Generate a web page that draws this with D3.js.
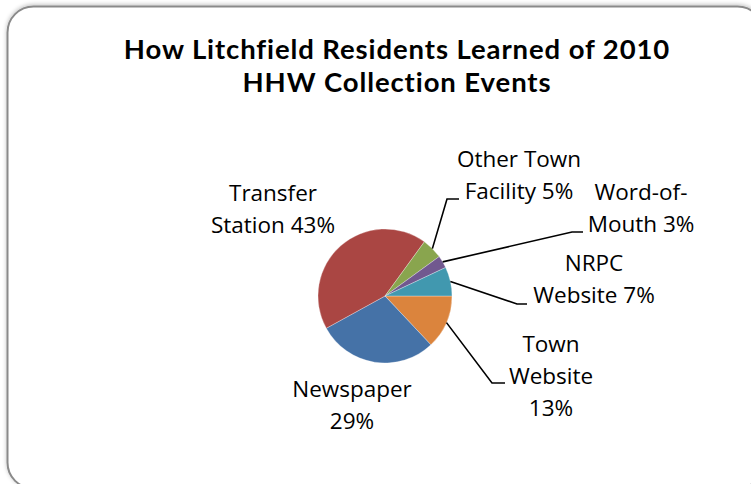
<!DOCTYPE html>
<html>
<head>
<meta charset="utf-8">
<script src="https://cdn.jsdelivr.net/npm/d3@7"></script>
<style>
  body { margin: 0; background: #fff; }
  svg { display: block; }
  .title { font-family: Lato, "Open Sans", sans-serif; font-weight: 700; font-size: 27.5px; fill: #000;
           letter-spacing: 0.9px; font-variant-ligatures: none; font-feature-settings: "liga" 0, "clig" 0; }
  .lbl { font-family: "Open Sans", "Noto Sans", sans-serif; font-size: 22.5px; fill: #000; }
</style>
</head>
<body>
<div id="chart"></div>
<script>
// slices in drawing order, clockwise starting at 3 o'clock
var categories = ['Town Website', 'Newspaper', 'Transfer Station', 'Other Town Facility', 'Word-of-Mouth', 'NRPC Website'];
var percents = [13, 29, 43, 5, 3, 7];
var labelLines = [
	['Town', 'Website', '13%'],
	['Newspaper', '29%'],
	['Transfer', 'Station 43%'],
	['Other Town', 'Facility 5%'],
	['Word-of-', 'Mouth 3%'],
	['NRPC', 'Website 7%']
];
var colors = ['#DB843D', '#4572A7', '#AA4643', '#89A54E', '#71588F', '#4198AF'];

var width = 751, height = 484;
var cx = 385, cy = 296, radius = 67;
var lineH = 32;

// where each label block sits (center x, first baseline) and where its leader bends
var labelPos = [
	{x: 551, y: 352, elbow: [492, 383], end: [505, 383]},
	{x: 352, y: 397},
	{x: 273, y: 201},
	{x: 519, y: 167, elbow: [447, 199], end: [459, 199]},
	{x: 641, y: 200, elbow: [572, 232], end: [583, 232]},
	{x: 594, y: 271, elbow: [517, 304], end: [527, 304]}
];

var svg = d3.select('#chart').append('svg')
	.attr('width', width)
	.attr('height', height);

// outer frame with soft shadow
var defs = svg.append('defs');
var flt = defs.append('filter').attr('id', 'shadow')
	.attr('x', '-5%').attr('y', '-5%').attr('width', '110%').attr('height', '110%');
flt.append('feGaussianBlur').attr('in', 'SourceAlpha').attr('stdDeviation', 2);
flt.append('feOffset').attr('dx', 0).attr('dy', -1).attr('result', 'b');
flt.append('feFlood').attr('flood-color', '#000').attr('flood-opacity', 0.25);
flt.append('feComposite').attr('in2', 'b').attr('operator', 'in');
var mrg = flt.append('feMerge');
mrg.append('feMergeNode');
mrg.append('feMergeNode').attr('in', 'SourceGraphic');

svg.append('rect')
	.attr('x', 7.5).attr('y', 6.5)
	.attr('width', 756).attr('height', 482)
	.attr('rx', 26).attr('ry', 26)
	.attr('fill', '#fff')
	.attr('stroke', '#8a8a8a')
	.attr('stroke-width', 2)
	.attr('filter', 'url(#shadow)');

// title
var title = svg.append('text').attr('class', 'title').attr('text-anchor', 'middle');
title.append('tspan').attr('x', 397).attr('y', 59).text('How Litchfield Residents Learned of 2010');
title.append('tspan').attr('x', 397).attr('y', 92).text('HHW Collection Events');

// pie
var data = categories.map(function(c, i){ return {name: c, value: percents[i], i: i}; });
var pie = d3.pie()
	.sort(null)
	.value(function(d){ return d.value; })
	.startAngle(Math.PI / 2)
	.endAngle(Math.PI / 2 + 2 * Math.PI);
var arcs = pie(data);
var arc = d3.arc().innerRadius(0).outerRadius(radius);

var g = svg.append('g').attr('transform', 'translate(' + cx + ',' + cy + ')');
g.selectAll('path.slice')
	.data(arcs)
	.enter().append('path')
	.attr('class', 'slice')
	.attr('d', arc)
	.attr('fill', function(d){ return colors[d.data.i]; })
	.attr('stroke', '#fff')
	.attr('stroke-opacity', 0.5)
	.attr('stroke-width', 0.6);

// leader lines from slice edge (mid angle) to label
var edge = d3.arc().innerRadius(radius).outerRadius(radius);
arcs.forEach(function(d){
	var p = labelPos[d.data.i];
	if(!p.elbow) return;
	var c = edge.centroid(d);
	var pts = [[cx + c[0], cy + c[1]], p.elbow, p.end];
	svg.append('path')
		.attr('d', d3.line()(pts))
		.attr('fill', 'none')
		.attr('stroke', '#000')
		.attr('stroke-width', 1.6);
});

// labels
data.forEach(function(d){
	var p = labelPos[d.i];
	var t = svg.append('text').attr('class', 'lbl').attr('text-anchor', 'middle');
	labelLines[d.i].forEach(function(line, k){
		t.append('tspan').attr('x', p.x).attr('y', p.y + k * lineH).text(line);
	});
});
</script>
</body>
</html>
